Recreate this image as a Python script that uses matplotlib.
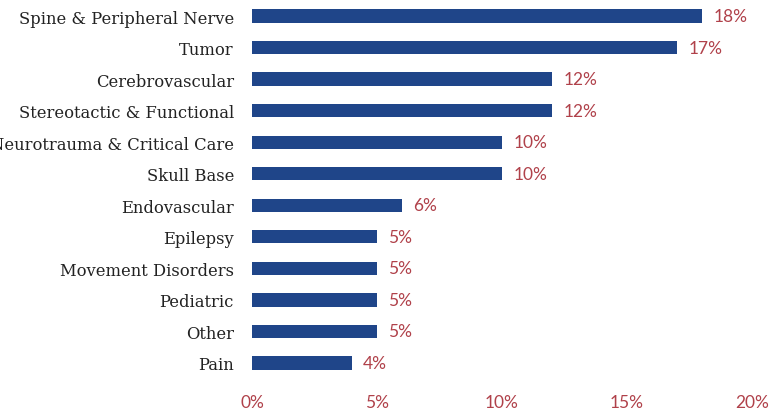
import matplotlib.pyplot as plt
from matplotlib.ticker import FuncFormatter

# subspecialty shares, top to bottom as in the chart
categories = ['Spine & Peripheral Nerve', 'Tumor', 'Cerebrovascular',
              'Stereotactic & Functional', 'Neurotrauma & Critical Care',
              'Skull Base', 'Endovascular', 'Epilepsy', 'Movement Disorders',
              'Pediatric', 'Other', 'Pain']
shares = [18, 17, 12, 12, 10, 10, 6, 5, 5, 5, 5, 4]
xticks = [0, 5, 10, 15, 20]

bar_color = '#1F4589'
red = '#B0414A'

fig = plt.figure(figsize=(7.69, 4.14), dpi=100)
ax = fig.add_axes([0.3277, 0.0827, 0.6502, 0.9143])

ypos = list(range(len(categories)))
ax.barh(ypos, shares, height=0.42, color=bar_color)
ax.set_ylim(len(categories) - 0.5, -0.5)
ax.set_xlim(0, 20)

for y, v in zip(ypos, shares):
    ax.text(v + 0.45, y, f'{v}%', va='center', ha='left',
            color=red, fontsize=12.5, family='Lato')

ax.set_yticks(ypos)
ax.set_yticklabels(categories, family='DejaVu Serif', fontsize=11.8, color='#222222')
ax.set_xticks(xticks)
ax.xaxis.set_major_formatter(FuncFormatter(lambda v, p: f'{v:.0f}%'))
for lbl in ax.get_xticklabels():
    lbl.set_family('Lato')
    lbl.set_fontsize(12.5)
    lbl.set_color(red)

ax.tick_params(axis='both', length=0)
ax.tick_params(axis='y', pad=13)
ax.tick_params(axis='x', pad=11)
for s in ax.spines.values():
    s.set_visible(False)

fig.savefig('out.png', dpi=100)
